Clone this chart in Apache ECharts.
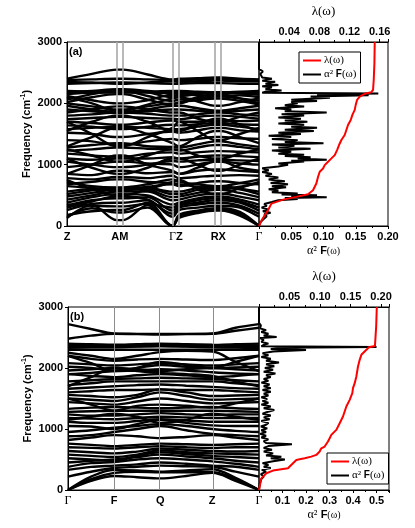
<!DOCTYPE html>
<html>
<head>
<meta charset="utf-8">
<script src="https://cdn.jsdelivr.net/npm/echarts/dist/echarts.min.js"></script>
<style>html,body{margin:0;padding:0;background:#fff}#chart{width:415px;height:528px}</style>
</head>
<body>
<div id="chart"></div>
<script>
// ---- k-path (fraction of path length), labels and vertical separators ----
var kPathA = [0, 0.13, 0.26, 0.291, 0.42, 0.55, 0.583, 0.68, 0.774, 0.801, 0.90, 1];
var kLabelPosA = [0, 0.275, 0.567, 0.788, 1];
var kLabelsA = ['Z', 'AM', 'ΓZ', 'RX', 'Γ'];
var kLinesA = [0.26, 0.291, 0.55, 0.583, 0.774, 0.801];

var kPathB = [0, 0.121, 0.242, 0.362, 0.483, 0.619, 0.755, 0.877, 1];
var kLabelPosB = [0, 0.242, 0.483, 0.755, 1];
var kLabelsB = ['Γ', 'F', 'Q', 'Z', 'Γ'];
var kLinesB = [0.242, 0.483, 0.755];

// ---- phonon bands (cm-1) at kPathA points ----
var bandsA = [
  [130, 340, 95, 95, 340, 0, 130, 210, 250, 250, 170, 0],
  [150, 290, 220, 220, 300, 0, 150, 230, 270, 270, 200, 0],
  [180, 240, 260, 260, 380, 0, 180, 250, 290, 290, 230, 0],
  [260, 360, 380, 380, 420, 150, 260, 300, 330, 330, 300, 150],
  [300, 400, 480, 480, 430, 200, 300, 350, 380, 380, 330, 200],
  [350, 330, 320, 320, 360, 300, 350, 420, 450, 450, 400, 300],
  [330, 420, 450, 450, 470, 250, 330, 380, 420, 420, 380, 250],
  [380, 470, 520, 520, 500, 350, 380, 450, 480, 480, 430, 350],
  [430, 500, 560, 560, 560, 420, 430, 500, 530, 530, 480, 420],
  [480, 540, 600, 600, 590, 470, 480, 540, 590, 590, 540, 470],
  [520, 580, 620, 620, 620, 520, 520, 590, 620, 620, 600, 520],
  [560, 600, 580, 580, 620, 560, 560, 620, 650, 650, 610, 560],
  [750, 600, 500, 500, 600, 720, 750, 600, 520, 520, 620, 720],
  [650, 620, 600, 600, 640, 680, 650, 700, 730, 730, 700, 680],
  [680, 720, 760, 760, 720, 700, 680, 640, 600, 600, 640, 700],
  [720, 650, 630, 630, 680, 760, 720, 680, 650, 650, 700, 760],
  [780, 760, 800, 800, 780, 820, 780, 800, 820, 820, 830, 820],
  [850, 830, 900, 900, 860, 880, 850, 900, 920, 920, 900, 880],
  [850, 1000, 1150, 1150, 1000, 900, 850, 950, 1050, 1050, 950, 900],
  [960, 1000, 1050, 1050, 1020, 1000, 960, 1000, 1050, 1050, 1020, 1000],
  [1100, 950, 850, 850, 950, 1100, 1100, 1000, 900, 900, 1000, 1100],
  [1050, 1000, 960, 960, 1000, 1060, 1050, 1070, 1080, 1080, 1070, 1060],
  [1100, 1080, 1100, 1100, 1100, 1120, 1100, 1130, 1150, 1150, 1140, 1120],
  [1180, 1150, 1130, 1130, 1180, 1200, 1180, 1200, 1220, 1220, 1210, 1200],
  [1250, 1150, 1050, 1050, 1150, 1250, 1250, 1150, 1100, 1100, 1180, 1250],
  [1230, 1250, 1280, 1280, 1260, 1250, 1230, 1280, 1320, 1320, 1290, 1250],
  [1280, 1320, 1350, 1350, 1300, 1290, 1280, 1330, 1380, 1380, 1330, 1290],
  [1700, 1500, 1300, 1300, 1450, 1600, 1700, 1550, 1400, 1400, 1500, 1600],
  [1400, 1380, 1320, 1320, 1380, 1420, 1400, 1420, 1450, 1450, 1430, 1420],
  [1300, 1450, 1600, 1600, 1500, 1350, 1300, 1450, 1550, 1550, 1450, 1350],
  [1520, 1500, 1450, 1450, 1500, 1540, 1520, 1560, 1600, 1600, 1560, 1540],
  [1550, 1700, 1800, 1800, 1700, 1550, 1550, 1650, 1750, 1750, 1650, 1550],
  [1580, 1600, 1620, 1620, 1600, 1580, 1580, 1620, 1650, 1650, 1620, 1580],
  [1640, 1620, 1580, 1580, 1620, 1650, 1640, 1660, 1680, 1680, 1660, 1650],
  [1700, 1680, 1650, 1650, 1690, 1720, 1700, 1700, 1720, 1720, 1710, 1720],
  [1740, 1760, 1780, 1780, 1760, 1750, 1740, 1780, 1800, 1800, 1780, 1750],
  [1800, 1820, 1850, 1850, 1830, 1800, 1800, 1820, 1850, 1850, 1820, 1800],
  [1850, 1900, 1950, 1950, 1900, 1850, 1850, 1750, 1700, 1700, 1780, 1850],
  [1900, 1870, 1840, 1840, 1870, 1900, 1900, 1880, 1860, 1860, 1880, 1900],
  [1960, 1900, 1860, 1860, 1900, 1960, 1960, 1920, 1880, 1880, 1920, 1960],
  [2000, 1950, 1900, 1900, 1950, 2000, 2000, 2100, 2150, 2150, 2080, 2000],
  [2020, 2100, 2150, 2150, 2060, 1980, 2020, 2050, 2080, 2080, 2040, 1980],
  [2060, 2150, 2200, 2200, 2120, 2040, 2060, 2080, 2110, 2110, 2080, 2040],
  [2100, 2000, 1880, 1880, 1980, 2080, 2100, 2030, 1960, 1960, 2020, 2080],
  [2120, 2050, 2000, 2000, 2050, 2140, 2120, 2150, 2170, 2170, 2160, 2140],
  [2150, 2180, 2220, 2220, 2180, 2100, 2150, 2130, 2120, 2120, 2130, 2100],
  [2170, 2175, 2180, 2180, 2175, 2170, 2170, 2170, 2170, 2170, 2170, 2170],
  [2200, 2190, 2180, 2180, 2190, 2200, 2200, 2190, 2180, 2180, 2190, 2200],
  [2180, 2200, 2230, 2230, 2200, 2170, 2180, 2175, 2170, 2170, 2175, 2170],
  [2320, 2330, 2340, 2340, 2330, 2320, 2320, 2330, 2330, 2330, 2320, 2320],
  [2350, 2340, 2320, 2320, 2340, 2360, 2350, 2360, 2370, 2370, 2360, 2360],
  [2380, 2390, 2400, 2400, 2390, 2380, 2380, 2390, 2395, 2395, 2385, 2380],
  [2400, 2480, 2550, 2550, 2470, 2390, 2400, 2410, 2420, 2420, 2400, 2390]
];

// ---- phonon bands (cm-1) at kPathB points ----
var bandsB = [
  [0, 150, 230, 210, 190, 230, 280, 150, 0],
  [0, 180, 280, 300, 290, 290, 290, 180, 0],
  [0, 220, 330, 320, 300, 320, 340, 200, 0],
  [220, 300, 360, 380, 400, 390, 380, 300, 220],
  [330, 380, 400, 420, 450, 430, 400, 380, 330],
  [380, 440, 460, 500, 520, 500, 470, 430, 380],
  [450, 480, 500, 540, 580, 550, 520, 480, 450],
  [520, 500, 480, 560, 620, 590, 560, 540, 520],
  [580, 560, 540, 580, 650, 620, 600, 590, 580],
  [640, 620, 600, 630, 680, 660, 640, 630, 640],
  [700, 690, 680, 700, 720, 700, 690, 700, 700],
  [760, 740, 720, 740, 760, 750, 740, 750, 760],
  [820, 860, 900, 880, 850, 870, 900, 860, 820],
  [880, 900, 950, 1000, 1050, 980, 920, 900, 880],
  [950, 980, 1020, 1050, 1080, 1050, 1000, 970, 950],
  [1050, 1040, 1000, 1080, 1150, 1100, 1060, 1050, 1050],
  [1120, 1100, 1100, 1130, 1160, 1140, 1120, 1120, 1120],
  [1150, 1200, 1250, 1200, 1100, 1150, 1250, 1200, 1150],
  [1180, 1170, 1160, 1180, 1200, 1190, 1180, 1180, 1180],
  [1240, 1220, 1220, 1240, 1260, 1240, 1230, 1240, 1240],
  [1280, 1290, 1300, 1300, 1300, 1300, 1300, 1290, 1280],
  [1330, 1350, 1360, 1350, 1340, 1350, 1360, 1340, 1330],
  [1500, 1400, 1300, 1380, 1400, 1380, 1350, 1420, 1500],
  [1440, 1420, 1400, 1450, 1500, 1460, 1420, 1430, 1440],
  [1500, 1480, 1460, 1520, 1600, 1540, 1480, 1490, 1500],
  [1560, 1540, 1520, 1560, 1650, 1600, 1540, 1550, 1560],
  [1600, 1620, 1640, 1640, 1650, 1640, 1640, 1620, 1600],
  [1660, 1680, 1700, 1720, 1730, 1710, 1690, 1670, 1660],
  [1720, 1750, 1780, 1780, 1780, 1780, 1780, 1750, 1720],
  [1780, 1800, 1820, 1830, 1840, 1830, 1820, 1800, 1780],
  [1700, 1850, 2000, 1950, 1920, 1900, 1870, 1780, 1700],
  [1900, 1870, 1850, 1880, 1900, 1880, 1850, 1870, 1900],
  [1900, 1920, 1950, 1960, 1980, 1960, 1930, 1910, 1900],
  [1960, 1980, 2000, 1980, 1950, 1980, 2000, 1980, 1960],
  [2020, 2000, 1960, 2000, 2050, 2020, 2000, 2010, 2020],
  [2080, 2060, 2040, 2060, 2080, 2060, 2040, 2060, 2080],
  [2200, 2080, 1950, 2000, 2100, 2050, 2000, 2100, 2200],
  [2200, 2150, 2120, 2140, 2150, 2140, 2130, 2160, 2200],
  [2250, 2200, 2150, 2200, 2260, 2280, 2270, 2100, 1950],
  [2300, 2300, 2300, 2300, 2300, 2300, 2300, 2300, 2300],
  [2330, 2340, 2340, 2350, 2360, 2350, 2340, 2335, 2330],
  [2350, 2355, 2350, 2355, 2360, 2355, 2350, 2355, 2350],
  [2370, 2380, 2380, 2390, 2400, 2390, 2380, 2375, 2370],
  [2400, 2390, 2370, 2370, 2380, 2370, 2370, 2390, 2400],
  [2480, 2530, 2560, 2555, 2550, 2555, 2560, 2610, 2660],
  [2720, 2640, 2565, 2560, 2560, 2560, 2565, 2660, 2720]
];

// ---- Eliashberg function a2F: [frequency, value] ----
var a2fA = [[0,0],[60,0.002],[100,0.006],[130,0.004],[160,0.012],[190,0.008],[215,0.018],[240,0.006],[270,0.014],[300,0.004],[330,0.012],[360,0.008],[390,0.02],[420,0.03],[440,0.06],[455,0.04],[470,0.105],[485,0.05],[500,0.09],[515,0.035],[530,0.06],[550,0.02],[580,0.03],[600,0.015],[630,0.042],[650,0.02],[680,0.045],[700,0.018],[730,0.04],[760,0.015],[790,0.03],[820,0.01],[850,0.02],[880,0.005],[910,0.015],[940,0.005],[970,0.03],[1000,0.045],[1020,0.03],[1050,0.07],[1065,0.05],[1080,0.105],[1100,0.06],[1120,0.08],[1140,0.04],[1160,0.07],[1180,0.03],[1210,0.05],[1230,0.02],[1260,0.08],[1280,0.03],[1310,0.055],[1330,0.02],[1350,0.1],[1370,0.04],[1400,0.06],[1420,0.02],[1450,0.05],[1470,0.015],[1500,0.065],[1520,0.03],[1550,0.085],[1570,0.04],[1600,0.09],[1620,0.05],[1650,0.07],[1670,0.03],[1700,0.075],[1720,0.04],[1750,0.065],[1770,0.03],[1800,0.07],[1820,0.035],[1850,0.105],[1870,0.04],[1900,0.05],[1920,0.025],[1950,0.07],[1970,0.04],[2000,0.06],[2020,0.05],[2040,0.09],[2060,0.05],[2090,0.11],[2110,0.08],[2130,0.17],[2145,0.09],[2160,0.185],[2172,0.005],[2190,0.01],[2210,0.035],[2230,0.01],[2260,0.02],[2280,0.005],[2300,0.03],[2320,0.01],[2350,0.025],[2370,0.005],[2400,0.02],[2420,0.005],[2450,0.008],[2480,0.002],[2520,0.006],[2560,0],[3000,0]];

var a2fB = [[0,0],[100,0.003],[180,0.01],[220,0.02],[260,0.008],[300,0.03],[330,0.012],[360,0.05],[380,0.02],[410,0.04],[440,0.015],[470,0.06],[500,0.11],[520,0.05],[545,0.095],[565,0.03],[600,0.06],[630,0.02],[660,0.055],[690,0.02],[720,0.04],[750,0.14],[770,0.03],[800,0.02],[830,0.04],[860,0.01],[890,0.03],[920,0.005],[950,0.03],[980,0.01],[1010,0.035],[1040,0.008],[1070,0.03],[1100,0.04],[1130,0.01],[1160,0.045],[1190,0.02],[1220,0.05],[1250,0.015],[1280,0.035],[1310,0.065],[1340,0.02],[1370,0.05],[1400,0.01],[1430,0.04],[1460,0.015],[1490,0.035],[1520,0.01],[1550,0.04],[1580,0.02],[1610,0.05],[1640,0.015],[1670,0.05],[1700,0.02],[1730,0.045],[1760,0.01],[1790,0.04],[1820,0.02],[1850,0.05],[1880,0.03],[1910,0.07],[1940,0.02],[1970,0.06],[2000,0.025],[2030,0.065],[2060,0.03],[2090,0.085],[2120,0.03],[2150,0.05],[2180,0.01],[2210,0.04],[2240,0.015],[2270,0.06],[2295,0.2],[2310,0.05],[2330,0.1],[2345,0.5],[2355,0.01],[2380,0.02],[2400,0.04],[2430,0.01],[2460,0.02],[2490,0.005],[2510,0.075],[2530,0.02],[2560,0.04],[2590,0.01],[2620,0.03],[2650,0.005],[2700,0.008],[2740,0],[3000,0]];

// ---- cumulative coupling lambda(w): [frequency, lambda] ----
var lambdaA = [[0,0],[93,0.0035],[175,0.0076],[256,0.012],[365,0.0164],[430,0.032],[475,0.0496],[518,0.065],[584,0.0716],[693,0.076],[802,0.0783],[884,0.0805],[938,0.0849],[993,0.0871],[1047,0.0915],[1102,0.096],[1156,0.1004],[1238,0.1035],[1320,0.1061],[1402,0.1092],[1484,0.1136],[1565,0.1158],[1647,0.118],[1729,0.1216],[1811,0.1238],[1893,0.1269],[1975,0.1282],[2056,0.13],[2111,0.1335],[2155,0.1401],[2182,0.149],[2220,0.1512],[2384,0.1521],[2656,0.153],[3000,0.1534]];

var lambdaB = [[0,0],[191,0.0038],[219,0.0066],[274,0.012],[318,0.0229],[345,0.0393],[356,0.0475],[438,0.0557],[493,0.0612],[504,0.0666],[520,0.0748],[547,0.0857],[575,0.0939],[630,0.0994],[684,0.1021],[712,0.1076],[739,0.1103],[794,0.113],[849,0.1158],[903,0.1185],[985,0.1267],[1095,0.1322],[1204,0.1376],[1368,0.1431],[1478,0.1486],[1587,0.1529],[1669,0.154],[1751,0.1568],[1861,0.1595],[2025,0.1622],[2134,0.165],[2216,0.1677],[2298,0.176],[2340,0.18],[2362,0.19],[2682,0.192],[3000,0.193]];

var SANS = 'Liberation Sans';
var SERIF = 'Liberation Serif';

function kFormatter(pos, labels) {
    return function (v) {
        var best = 0;
        for (var i = 1; i < pos.length; i++) {
            if (Math.abs(pos[i] - v) < Math.abs(pos[best] - v)) best = i;
        }
        return labels[best].replace(/Γ/g, '{g|Γ}');
    };
}

var labelStyle = { color: '#000', fontFamily: SANS, fontWeight: 'bold', fontSize: 11 };
var greekRich = { g: { fontFamily: SERIF, fontWeight: 'normal', fontSize: 12, color: '#000' } };
var lineBlack = { color: '#000', width: 1 };

function bandXAxis(grid, pos, labels) {
    return {
        gridIndex: grid, type: 'value', min: 0, max: 1,
        axisLine: { lineStyle: lineBlack }, axisTick: { show: false }, splitLine: { show: false },
        axisLabel: Object.assign({ customValues: pos, formatter: kFormatter(pos, labels), margin: 5, rich: greekRich }, labelStyle)
    };
}

function freqYAxis(grid) {
    return {
        gridIndex: grid, type: 'value', min: 0, max: 3000, interval: 1000,
        axisLine: { show: true, lineStyle: lineBlack },
        axisTick: { show: true, length: 3, lineStyle: lineBlack },
        splitLine: { show: false },
        axisLabel: Object.assign({ margin: 5, formatter: function (v) { return String(v); } }, labelStyle),
        name: 'Frequency (cm{sup|-1})', nameLocation: 'middle', nameGap: 33,
        nameTextStyle: { color: '#000', fontFamily: SANS, fontWeight: 'bold', fontSize: 11,
            rich: { sup: { fontFamily: SANS, fontWeight: 'bold', fontSize: 7, padding: [0, 0, 7, 0] } } }
    };
}

function dosXAxis(grid, max, interval, digits) {
    return {
        gridIndex: grid, type: 'value', position: 'bottom', min: 0, max: max, interval: interval,
        axisLine: { lineStyle: lineBlack },
        axisTick: { length: 3, lineStyle: lineBlack },
        minorTick: { show: true, splitNumber: 2, length: 2, lineStyle: lineBlack },
        splitLine: { show: false },
        axisLabel: Object.assign({ margin: 5, showMaxLabel: max === 0.2,
            formatter: function (v) { return v === 0 ? '' : v.toFixed(digits); } }, labelStyle),
        name: '{s|α²} {b|F}{w|(ω)}', nameLocation: 'middle', nameGap: 19,
        nameTextStyle: { rich: {
            s: { fontFamily: SERIF, fontSize: 12, color: '#000' },
            b: { fontFamily: SANS, fontWeight: 'bold', fontSize: 11, color: '#000' },
            w: { fontFamily: SERIF, fontSize: 10, color: '#000' } } }
    };
}

function lambdaXAxis(grid, max, interval) {
    return {
        gridIndex: grid, type: 'value', position: 'top', min: 0, max: max, interval: interval,
        axisLine: { lineStyle: lineBlack },
        axisTick: { length: 3, lineStyle: lineBlack },
        minorTick: { show: true, splitNumber: 2, length: 2, lineStyle: lineBlack },
        splitLine: { show: false },
        axisLabel: Object.assign({ margin: 5, showMaxLabel: false,
            formatter: function (v) { return v === 0 ? '' : v.toFixed(2); } }, labelStyle),
        name: 'λ(ω)', nameLocation: 'middle', nameGap: 24,
        nameTextStyle: { fontFamily: SERIF, fontSize: 13, color: '#000' }
    };
}

var series = [];
function addBands(bands, kPath, xIdx, yIdx, lines, lineColor, lineWidth) {
    bands.forEach(function (b, n) {
        var s = {
            type: 'line', xAxisIndex: xIdx, yAxisIndex: yIdx, silent: true,
            data: kPath.map(function (k, i) { return [k, b[i]]; }),
            smooth: 0.35, symbol: 'none', lineStyle: { color: '#000', width: 2.4 }
        };
        if (n === bands.length - 1) {
            s.markLine = {
                silent: true, symbol: ['none', 'none'], label: { show: false },
                lineStyle: { color: lineColor, width: lineWidth, type: 'solid' },
                data: lines.map(function (x) { return { xAxis: x }; })
            };
        }
        series.push(s);
    });
}
addBands(bandsA, kPathA, 0, 0, kLinesA, '#a8a8a8', 1.6);
addBands(bandsB, kPathB, 3, 2, kLinesB, '#8c8c8c', 1);

function addDos(a2f, lam, xDos, xLam, y) {
    series.push({
        name: 'α² F(ω)', type: 'line', xAxisIndex: xDos, yAxisIndex: y, silent: true,
        data: a2f.map(function (p) { return [p[1], p[0]]; }),
        symbol: 'none', itemStyle: { color: '#000' }, lineStyle: { color: '#000', width: 2 }
    });
    series.push({
        name: 'λ(ω)', type: 'line', xAxisIndex: xLam, yAxisIndex: y, silent: true,
        data: lam.map(function (p) { return [p[1], p[0]]; }),
        symbol: 'none', itemStyle: { color: '#ff0000' }, lineStyle: { color: '#ff0000', width: 2 }
    });
}
addDos(a2fA, lambdaA, 1, 2, 1);
addDos(a2fB, lambdaB, 4, 5, 3);

function legendAt(left, top) {
    return {
        data: ['λ(ω)', 'α² F(ω)'], left: left, top: top, orient: 'vertical',
        itemWidth: 18, itemHeight: 8, itemGap: 3, padding: [3, 4, 3, 3],
        borderColor: '#000', borderWidth: 1, backgroundColor: '#fff', selectedMode: false,
        itemStyle: { opacity: 0 },
        lineStyle: { width: 2 },
        formatter: function (name) {
            return name === 'λ(ω)' ? '{s|λ(ω)}' : '{s|α²} {b|F}{s|(ω)}';
        },
        textStyle: { color: '#000', fontSize: 10, padding: [0, 0, 0, -2], rich: {
            s: { fontFamily: SERIF, fontSize: 11, color: '#000' },
            b: { fontFamily: SANS, fontWeight: 'bold', fontSize: 10, color: '#000' } } }
    };
}

var gridBox = { show: true, borderColor: '#000', borderWidth: 1, backgroundColor: 'transparent' };
var option = {
    animation: false,
    backgroundColor: '#fff',
    textStyle: { fontFamily: SANS },
    title: [
        { text: '(a)', left: 69, top: 46, padding: 0, textStyle: { fontSize: 11, fontWeight: 'bold', color: '#000', fontFamily: SANS } },
        { text: '(b)', left: 70, top: 311, padding: 0, textStyle: { fontSize: 11, fontWeight: 'bold', color: '#000', fontFamily: SANS } }
    ],
    legend: [legendAt(299, 52), legendAt(327, 453)],
    grid: [
        Object.assign({ left: 67, top: 42, width: 192, height: 184 }, gridBox),
        Object.assign({ left: 259, top: 42, width: 129, height: 184 }, gridBox),
        Object.assign({ left: 68, top: 307, width: 191, height: 183 }, gridBox),
        Object.assign({ left: 259, top: 307, width: 130, height: 183 }, gridBox)
    ],
    xAxis: [
        bandXAxis(0, kLabelPosA, kLabelsA),
        dosXAxis(1, 0.2, 0.05, 2),
        lambdaXAxis(1, 0.171, 0.04),
        bandXAxis(2, kLabelPosB, kLabelsB),
        dosXAxis(3, 0.553, 0.1, 1),
        lambdaXAxis(3, 0.213, 0.05)
    ],
    yAxis: [
        freqYAxis(0),
        { gridIndex: 1, type: 'value', min: 0, max: 3000, show: false },
        freqYAxis(2),
        { gridIndex: 3, type: 'value', min: 0, max: 3000, show: false }
    ],
    series: series
};

var myChart = echarts.init(document.getElementById('chart'), null, { width: 415, height: 528 });
myChart.setOption(option);
</script>
</body>
</html>
